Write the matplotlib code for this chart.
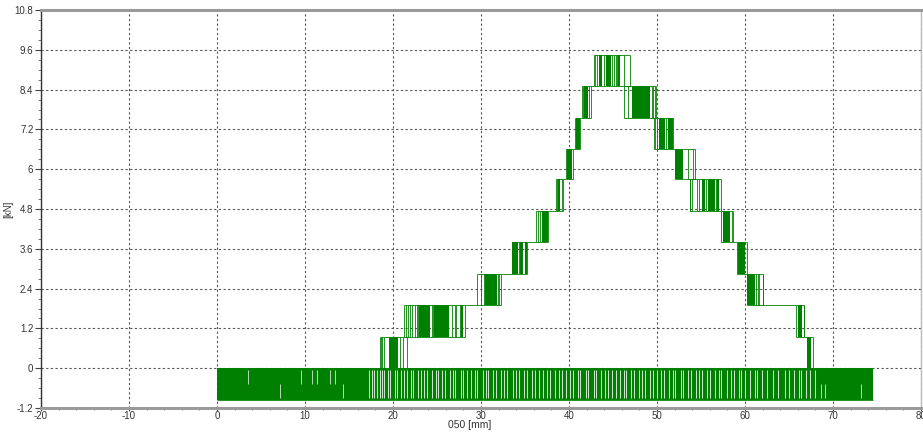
import matplotlib
matplotlib.use("Agg")
import matplotlib.pyplot as plt
from matplotlib.ticker import MultipleLocator, FuncFormatter

GREEN = "#008000"

# ---------------------------------------------------------------------------
# Load trace of channel 050: the quantised signal flickers between two
# adjacent levels inside each band.  Bands are listed in time order.
# band_x0 / band_x1 : first and last flicker position [mm]
# band_lo / band_hi : the two levels the signal flickers between [kN]
# ---------------------------------------------------------------------------
band_x0 = [18.5, 21.3, 29.6, 33.5, 36.3, 38.5, 39.7, 40.7, 41.5, 42.8,
           46.2, 49.7, 52.0, 53.7, 57.3, 59.1, 60.2, 65.8, 67.0]
band_x1 = [21.6, 28.2, 32.3, 35.2, 37.6, 39.3, 40.5, 41.3, 42.5, 46.9,
           49.9, 51.8, 54.3, 57.3, 58.6, 60.2, 62.1, 66.7, 67.7]
band_lo = [0.0, 0.95, 1.9, 2.85, 3.8, 4.75, 5.7, 6.6, 7.55, 8.5,
           7.55, 6.6, 5.7, 4.75, 3.8, 2.85, 1.9, 0.95, 0.0]
band_hi = [0.95, 1.9, 2.85, 3.8, 4.75, 5.7, 6.6, 7.55, 8.5, 9.45,
           8.5, 7.55, 6.6, 5.7, 4.75, 3.8, 2.85, 1.9, 0.95]

# stretches where the flicker is so fast it fills the band [mm]
band_dense = [
    [(19.6, 20.6)],
    [(23.0, 24.2), (24.7, 26.4), (27.7, 28.0)],
    [(30.4, 31.8)],
    [(33.5, 34.2), (34.4, 34.8), (35.0, 35.2)],
    [(36.9, 37.6)],
    [(38.7, 39.0)],
    [(39.8, 40.3)],
    [(40.8, 41.2)],
    [(41.7, 42.2)],
    [(43.4, 43.8), (44.2, 44.8), (45.6, 45.8)],
    [(47.2, 49.2)],
    [(50.2, 50.9), (51.2, 51.8)],
    [(52.1, 53.0)],
    [(55.1, 55.5), (55.8, 56.6), (56.8, 57.1)],
    [(57.5, 58.3)],
    [(59.2, 60.0)],
    [(60.2, 61.1)],
    [(66.0, 66.5)],
    [(67.1, 67.5)],
]
# isolated flickers [mm]
band_single = [
    [18.6, 18.8, 19.0, 20.8, 21.1],
    [21.5, 21.7, 21.9, 22.2, 22.5, 22.7, 22.8, 24.4, 24.5, 26.7, 27.0, 27.2, 27.6],
    [30.0, 30.3, 31.9, 32.1],
    [34.3],
    [36.5, 36.7],
    [38.6, 39.2],
    [40.0],
    [],
    [41.6, 42.3],
    [43.0, 43.2, 44.0, 44.9, 45.1, 45.3, 45.5, 46.2],
    [46.7, 49.4, 49.5, 49.8],
    [49.8, 50.0, 51.0],
    [53.5, 54.1],
    [53.8, 54.0, 54.6, 54.8, 55.6, 56.7],
    [58.5],
    [],
    [61.3, 61.5, 61.6, 62.0],
    [66.7],
    [],
]

# ---------------------------------------------------------------------------
# Zero line: the unloaded signal flickers between -0.95 and 0 kN
# ---------------------------------------------------------------------------
base_lo, base_hi = -0.95, 0.0
base_start, base_end = 0.0, 74.6
# short pauses in the flicker [mm]
base_gaps_upper = [3.5, 9.6, 10.8, 11.4, 12.8, 13.4]
base_gaps_lower = [7.2, 14.3, 68.6, 69.1, 73.2]
base_gaps_mixed = [
    17.3, 17.6, 17.8, 18.2, 18.5, 18.7, 19.0, 19.4,
    19.7, 20.2, 20.4, 20.9, 21.3, 21.6, 22.1, 22.3, 22.8, 23.2, 23.5, 23.9,
    24.4, 24.9, 25.1, 25.6, 25.9, 26.5, 26.8, 27.1, 27.7, 28.0, 28.4, 28.9,
    29.3, 29.6, 30.2, 30.6, 30.8, 31.4, 31.7, 32.3, 32.6, 33.0, 33.6, 34.0,
    34.3, 34.9, 35.2, 35.8, 36.1, 36.6, 37.0, 37.5, 37.8, 38.4, 38.9, 39.2,
    39.7, 40.1, 40.5, 41.0, 41.3, 41.9, 42.2, 42.8, 43.1, 43.6, 44.1, 44.4,
    44.9, 45.3, 45.8, 46.2, 46.5, 47.0, 47.4, 47.9, 48.3, 48.6, 49.2, 49.5,
    50.0, 50.5, 50.8, 51.4, 51.8, 52.1, 52.7, 53.0, 53.5, 53.9, 54.4, 54.8,
    55.1, 55.7, 56.0, 56.6, 57.0, 57.3, 57.9, 58.4, 58.7, 59.3, 59.6, 60.0,
    60.6, 61.1, 61.4, 61.9, 62.5, 63.2, 63.8, 64.5, 65.0, 65.6, 66.1, 66.4,
    66.9, 67.4, 67.9,
]

# axis ranges and tick spacing
x_range = (-20, 80)
y_range = (-1.2, 10.8)
x_major, x_minor = 10, 2
y_major, y_minor = 1.2, 0.3

# ---------------------------------------------------------------------------
fig = plt.figure(figsize=(9.23, 4.32), dpi=100)
ax = fig.add_axes([41 / 923, 24 / 432, 880 / 923, 398 / 432])
ax.set_xlim(*x_range)
ax.set_ylim(*y_range)

LW = 0.6

# zero-line band
mid = (base_lo + base_hi) / 2
ax.fill_between([base_start, base_end], base_lo, base_hi, color=GREEN, lw=0, zorder=2)
ax.vlines(base_gaps_mixed, base_lo + 0.06, base_hi - 0.04, color="white",
          lw=0.75, alpha=0.8, zorder=3)
ax.vlines(base_gaps_upper, mid, base_hi - 0.04, color="white", lw=0.55, alpha=0.9, zorder=3)
ax.vlines(base_gaps_lower, base_lo + 0.04, mid, color="white", lw=0.55, alpha=0.9, zorder=3)
ax.hlines([base_lo, base_hi], base_start, base_end, color=GREEN, lw=LW, zorder=4)

# load bands
for i in range(len(band_x0)):
    x0, x1, lo, hi = band_x0[i], band_x1[i], band_lo[i], band_hi[i]
    ax.hlines([lo, hi], x0, x1, color=GREEN, lw=LW, zorder=4)
    ax.vlines([x0, x1] + band_single[i], lo, hi, color=GREEN, lw=LW, zorder=4)
    for a, b in band_dense[i]:
        ax.fill_between([a, b], lo, hi, color=GREEN, lw=0, zorder=4)
    # rest level carrying on to the next band
    if i + 1 < len(band_x0):
        shared = hi if hi in (band_lo[i + 1], band_hi[i + 1]) else lo
        ax.hlines(shared, x1, band_x0[i + 1], color=GREEN, lw=LW, zorder=4)

# grid and axes styling
ax.xaxis.set_major_locator(MultipleLocator(x_major))
ax.xaxis.set_minor_locator(MultipleLocator(x_minor))
ax.yaxis.set_major_locator(MultipleLocator(y_major))
ax.yaxis.set_minor_locator(MultipleLocator(y_minor))
ax.yaxis.set_major_formatter(FuncFormatter(lambda v, p: f"{round(v, 1):g}"))
ax.xaxis.set_major_formatter(FuncFormatter(lambda v, p: f"{round(v):g}"))

ax.grid(True, which="major", color="#555555", lw=0.8, linestyle=(0, (2.0, 2.2)))
ax.set_axisbelow(True)

tick_font = ["Liberation Sans Narrow", "Liberation Sans", "DejaVu Sans"]
ax.tick_params(axis="y", which="major", labelsize=7, length=4, width=0.8,
               colors="#444444", labelcolor="#333333", pad=1.5)
ax.tick_params(axis="x", which="major", labelsize=7, length=2, width=0.8,
               colors="#444444", labelcolor="#333333", pad=0)
ax.tick_params(axis="y", which="minor", length=2.5, width=0.6, colors="#666666")
ax.tick_params(axis="x", which="minor", length=1.5, width=0.6, colors="#666666")
for lab in ax.get_xticklabels() + ax.get_yticklabels():
    lab.set_family(tick_font)

ax.spines["left"].set_color("#333333")
ax.spines["left"].set_linewidth(1.0)
for side in ("top", "bottom"):
    ax.spines[side].set_color("#9a9a9a")
    ax.spines[side].set_linewidth(2.2)
ax.spines["right"].set_color("#bbbbbb")
ax.spines["right"].set_linewidth(1.0)

ax.set_xlabel("050 [mm]", fontsize=7.5, family=tick_font, color="#333333")
ax.xaxis.set_label_coords(0.487, -0.031)
ax.set_ylabel("[kN]", fontsize=7, family=tick_font, color="#333333")
ax.yaxis.set_label_coords(-0.032, 0.5)

fig.savefig("out.png", dpi=100)
